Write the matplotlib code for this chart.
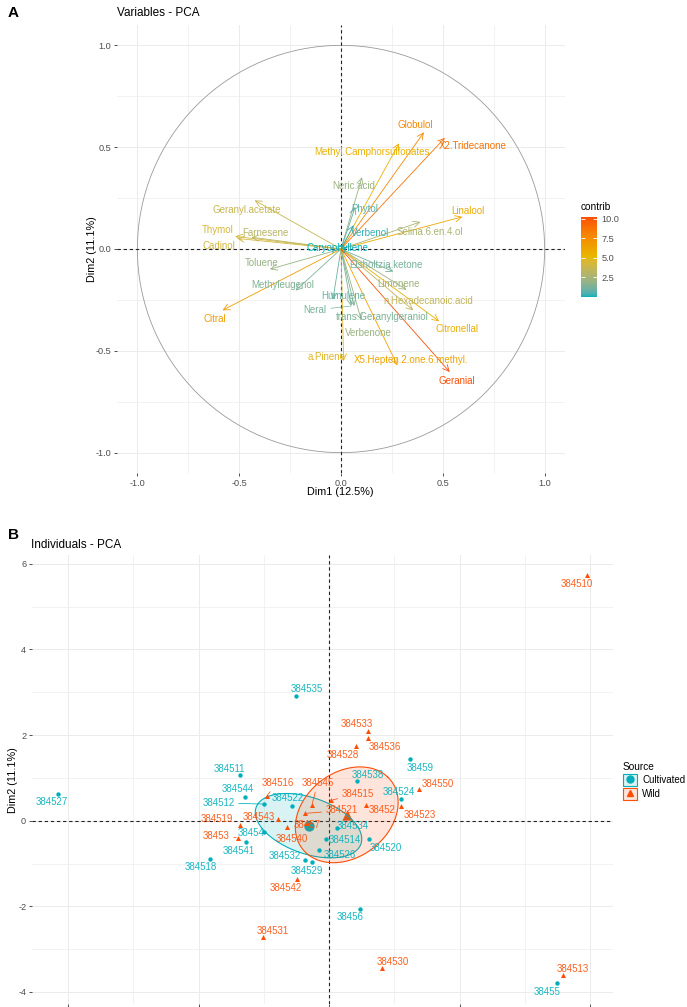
import numpy as np
import matplotlib
matplotlib.use("Agg")
import matplotlib.pyplot as plt
from matplotlib.colors import ListedColormap, Normalize, to_rgba, to_rgb
from matplotlib.cm import ScalarMappable
from matplotlib.lines import Line2D
from matplotlib.patches import Patch, Circle
from matplotlib.legend_handler import HandlerTuple

plt.rcParams['font.family'] = ['Liberation Sans', 'DejaVu Sans']
plt.rcParams['axes.unicode_minus'] = False

# ---------------- data ----------------
dim1_pct = 12.5
dim2_pct = 11.1

var_names = ["Globulol", "X2.Tridecanone", "Methyl.Camphorsulfonates", "Neric.acid",
             "Phytol", "Verbenol", "Selina.6.en.4.ol", "Linalool", "Geranyl.acetate",
             "Thymol", "Farnesene", "Cadinol", "Caryophyllene", "Toluene",
             "Elsholtzia.ketone", "Methyleugenol", "Limonene", "Humulene", "Neral",
             "trans.Geranylgeraniol", "n.Hexadecanoic.acid", "Citronellal", "Citral",
             "Verbenone", "a.Pinene", "X5.Hepten.2.one.6.methyl.", "Geranial"]
var_dim1 = [0.407, 0.510, 0.285, 0.103, 0.070, 0.062, 0.390, 0.596, -0.424,
            -0.520, -0.440, -0.510, 0.030, -0.349, 0.257, -0.223, 0.322, -0.040, 0.050,
            0.065, 0.355, 0.482, -0.582, 0.100, 0.013, 0.277, 0.534]
var_dim2 = [0.573, 0.546, 0.519, 0.353, 0.207, 0.117, 0.133, 0.158, 0.239,
            0.062, 0.058, 0.052, 0.010, -0.099, -0.111, -0.204, -0.200, -0.249, -0.280,
            -0.280, -0.301, -0.355, -0.301, -0.350, -0.550, -0.572, -0.604]

cult_ids = ["384527", "384511", "384544", "384512", "384522", "38454", "384541", "384518",
            "384532", "384529", "384534", "384514", "384526", "384520", "384538", "384524",
            "38459", "384535", "38456", "38455"]
cult_dim1 = [-4.15, -1.36, -1.29, -0.99, -0.56, -0.99, -1.27, -1.82, -0.37, -0.255, 0.12,
             -0.05, -0.15, 0.61, 0.43, 1.11, 1.24, -0.51, 0.47, 3.50]
cult_dim2 = [0.62, 1.07, 0.56, 0.39, 0.34, -0.27, -0.49, -0.89, -0.92, -0.97, -0.16,
             -0.42, -0.68, -0.42, 0.92, 0.51, 1.44, 2.91, -2.06, -3.80]

wild_ids = ["384510", "384516", "384545", "384519", "384543", "38453", "384540", "38457",
            "384521", "384515", "38452", "384523", "384550", "384528", "384536", "384533",
            "384542", "384531", "384530", "384513"]
wild_dim1 = [3.95, -0.955, -0.265, -1.37, -0.78, -1.39, -0.65, -0.34, -0.37, 0.03, 0.57,
             1.11, 1.38, 0.41, 0.60, 0.60, -0.49, -1.01, 0.81, 3.59]
wild_dim2 = [5.74, 0.58, 0.36, -0.11, 0.03, -0.40, -0.155, -0.06, 0.17, 0.48, 0.37, 0.35,
             0.73, 1.75, 1.93, 2.10, -1.35, -2.72, -3.43, -3.60]

groups = ["Cultivated", "Wild"]

# ---------------- layout (label offsets in pixels, segment flags) ----------------
var_lab_off = [(-9, 7), (28, -8), (-27, -9), (-8, -9), (9, -2), (16, -8), (9, -10), (6, 6),
               (-8, -10), (-17, 6), (14, 4), (-18, -8), (-10, -1), (-8, 6), (-7, 7), (-13, 6),
               (-8, 6), (10, 4), (-36, -4), (28, -11), (15, 9), (18, -8), (-8, -9), (7, -13),
               (-17, 4), (14, 5), (7, -9)]
var_lab_seg = {"Neral"}

cult_lab_off = [(-6, -8), (-11, 6), (-7, 8), (-46, 1), (-5, 8), (-13, -1), (-7, -9), (-9, -8),
                (-20, 4), (-6, -9), (16, 2), (19, -1), (21, -5), (17, -9), (11, 6), (-3, 7),
                (10, -9), (11, 7), (-10, -8), (-10, -9)]
cult_lab_seg = {"384512"}
wild_lab_off = [(-10, -9), (11, 13), (6, 22), (-23, 6), (-19, 2), (-22, 2), (5, -12), (0, -2),
                (37, 3), (27, 6), (16, -5), (18, -9), (19, 5), (-13, -9), (17, -9), (-11, 7),
                (-11, -9), (10, 6), (11, 6), (10, 6)]
wild_lab_seg = {"384516", "384545", "38453", "384521", "384515"}

TEAL = "#00AFBB"
YELLOW = "#E7B800"
ORANGE = "#FC4E07"
GRID = "#EBEBEB"
TICKC = "#4D4D4D"


# ---------- Lab-space gradient (as ggplot's gradientn) ----------
def _srgb_to_lab(rgb):
    c = np.asarray(rgb, float)
    lin = np.where(c <= 0.04045, c / 12.92, ((c + 0.055) / 1.055) ** 2.4)
    M = np.array([[0.4124564, 0.3575761, 0.1804375],
                  [0.2126729, 0.7151522, 0.0721750],
                  [0.0193339, 0.1191920, 0.9503041]])
    xyz = M @ lin / np.array([0.95047, 1.0, 1.08883])
    d = 6 / 29
    f = np.where(xyz > d ** 3, np.cbrt(xyz), xyz / (3 * d * d) + 4 / 29)
    return np.array([116 * f[1] - 16, 500 * (f[0] - f[1]), 200 * (f[1] - f[2])])


def _lab_to_srgb(lab):
    L, a, b = lab
    fy = (L + 16) / 116
    fx = fy + a / 500
    fz = fy - b / 200
    d = 6 / 29
    f = np.array([fx, fy, fz])
    xyz = np.where(f > d, f ** 3, 3 * d * d * (f - 4 / 29)) * np.array([0.95047, 1.0, 1.08883])
    Minv = np.array([[3.2404542, -1.5371385, -0.4985314],
                     [-0.9692660, 1.8760108, 0.0415560],
                     [0.0556434, -0.2040259, 1.0572252]])
    lin = np.clip(Minv @ xyz, 0, 1)
    c = np.where(lin <= 0.0031308, 12.92 * lin, 1.055 * lin ** (1 / 2.4) - 0.055)
    return np.clip(c, 0, 1)


def lab_cmap(colors, n=256):
    labs = [_srgb_to_lab(to_rgb(c)) for c in colors]
    pos = np.linspace(0, 1, len(colors))
    out = []
    for t in np.linspace(0, 1, n):
        i = min(np.searchsorted(pos, t, side='right') - 1, len(colors) - 2)
        u = (t - pos[i]) / (pos[i + 1] - pos[i])
        out.append(_lab_to_srgb(labs[i] * (1 - u) + labs[i + 1] * u))
    return ListedColormap(out)


W, H = 687, 1007
fig = plt.figure(figsize=(W / 100, H / 100), dpi=100)


def px_rect(l, t, r, b):
    return [l / W, 1 - b / H, (r - l) / W, (b - t) / H]


def style_axes(ax):
    for s in ax.spines.values():
        s.set_visible(False)
    ax.grid(True, which='major', color=GRID, lw=0.7, zorder=0)
    ax.grid(True, which='minor', color=GRID, lw=0.45, zorder=0)
    ax.set_axisbelow(True)
    ax.tick_params(which='major', length=2.5, width=0.6, color='#333333',
                   labelsize=6.6, labelcolor=TICKC, pad=1.5)
    ax.tick_params(which='minor', length=0)


# ================= Panel A : variables =================
ax1 = fig.add_axes(px_rect(117, 25, 565, 473))
style_axes(ax1)
ax1.set_xlim(-1.1, 1.1)
ax1.set_ylim(-1.1, 1.1)
major = [-1.0, -0.5, 0.0, 0.5, 1.0]
ax1.set_xticks(major)
ax1.set_yticks(major)
ax1.set_xticks([-0.75, -0.25, 0.25, 0.75], minor=True)
ax1.set_yticks([-0.75, -0.25, 0.25, 0.75], minor=True)
ax1.set_xticklabels([f"{v:.1f}" for v in major])
ax1.set_yticklabels([f"{v:.1f}" for v in major])

ax1.add_patch(Circle((0, 0), 1.0, fill=False, ec='#9a9a9a', lw=0.6, zorder=1))
ax1.axhline(0, color='#222222', lw=0.8, ls=(0, (3, 2.5)), zorder=2)
ax1.axvline(0, color='#222222', lw=0.8, ls=(0, (3, 2.5)), zorder=2)

vx = np.array(var_dim1)
vy = np.array(var_dim2)
eig_sum = (dim1_pct + dim2_pct) / 100 * len(var_names)
contrib = 100 * (vx ** 2 + vy ** 2) / eig_sum
cmap = lab_cmap([TEAL, YELLOW, ORANGE])
norm = Normalize(vmin=contrib.min(), vmax=contrib.max())

for name, x, y, c, off in zip(var_names, vx, vy, contrib, var_lab_off):
    col = cmap(norm(c))
    ax1.annotate("", xy=(x, y), xytext=(0, 0),
                 arrowprops=dict(arrowstyle="->,head_length=0.45,head_width=0.22",
                                 color=col, lw=0.6, shrinkA=0, shrinkB=0), zorder=3)
    aprops = None
    if name in var_lab_seg:
        aprops = dict(arrowstyle='-', color=col, lw=0.5, shrinkA=1, shrinkB=0)
    ax1.annotate(name, xy=(x, y), xytext=off, textcoords='offset pixels',
                 ha='center', va='center', fontsize=7, color=col,
                 arrowprops=aprops, zorder=4)

fig.text(117 / W, 1 - 13 / H, "Variables - PCA", fontsize=8.5, va='center', ha='left')
fig.text(8 / W, 1 - 13 / H, "A", fontsize=11, fontweight='bold', va='center', ha='left')
fig.text(340.7 / W, 1 - 492 / H, f"Dim1 ({dim1_pct}%)", fontsize=7.8, ha='center', va='center')
fig.text(92 / W, 1 - 249 / H, f"Dim2 ({dim2_pct}%)", fontsize=7.8, ha='center', va='center',
         rotation=90)

# colour bar
cax = fig.add_axes(px_rect(581, 217, 597, 297))
sm = ScalarMappable(norm=norm, cmap=cmap)
cb = fig.colorbar(sm, cax=cax)
cb.outline.set_visible(False)
cb.set_ticks([2.5, 5.0, 7.5, 10.0])
cb.set_ticklabels(["2.5", "5.0", "7.5", "10.0"])
cax.tick_params(axis='y', direction='in', color='white', length=3, width=0.6,
                left=True, right=True, labelsize=6.6, labelcolor=TICKC, pad=3)
fig.text(581 / W, 1 - 207 / H, "contrib", fontsize=7.3, ha='left', va='center')

# ================= Panel B : individuals =================
cx_ = np.array(cult_dim1)
cy_ = np.array(cult_dim2)
wx_ = np.array(wild_dim1)
wy_ = np.array(wild_dim2)
allx = np.concatenate([cx_, wx_])
ally = np.concatenate([cy_, wy_])
xpad = 0.05 * (allx.max() - allx.min())
ypad = 0.05 * (ally.max() - ally.min())

ax2 = fig.add_axes(px_rect(31.8, 554.6, 613.2, 1003.8))
style_axes(ax2)
ax2.set_xlim(allx.min() - xpad, allx.max() + xpad)
ax2.set_ylim(ally.min() - ypad, ally.max() + ypad)
ax2.set_xticks([-4, -2, 0, 2, 4])
ax2.set_xticks([-3, -1, 1, 3], minor=True)
ax2.set_yticks([-4, -2, 0, 2, 4, 6])
ax2.set_yticks([-3, -1, 1, 3, 5], minor=True)
ax2.tick_params(axis='x', labelbottom=False)
ax2.axhline(0, color='#222222', lw=0.8, ls=(0, (3, 2.5)), zorder=2)
ax2.axvline(0, color='#222222', lw=0.8, ls=(0, (3, 2.5)), zorder=2)


def conf_ellipse(x, y, level=0.95, n=200):
    x = np.asarray(x)
    y = np.asarray(y)
    cov = np.cov(x, y) / len(x)
    sx, sy = np.sqrt(np.diag(cov))
    r = cov[0, 1] / (sx * sy)
    d = np.arccos(r)
    t = np.sqrt(-2 * np.log(1 - level))
    a = np.linspace(0, 2 * np.pi, n)
    return x.mean() + t * sx * np.cos(a + d / 2), y.mean() + t * sy * np.cos(a - d / 2)


group_data = [
    (cx_, cy_, cult_ids, cult_lab_off, cult_lab_seg, TEAL, 'o', 10),
    (wx_, wy_, wild_ids, wild_lab_off, wild_lab_seg, ORANGE, '^', 13),
]
for gx, gy, ids, offs, segs, col, mk, sz in group_data:
    ax2.scatter(gx, gy, s=sz, marker=mk, color=col, lw=0, zorder=4)
    ax2.scatter([gx.mean()], [gy.mean()], s=55, marker=mk, color=col, lw=0, zorder=2.5)
    for lab, x, y, off in zip(ids, gx, gy, offs):
        aprops = None
        if lab in segs:
            aprops = dict(arrowstyle='-', color=col, lw=0.55, shrinkA=1, shrinkB=1.5)
        ax2.annotate(lab, xy=(x, y), xytext=off, textcoords='offset pixels',
                     ha='center', va='center', fontsize=7, color=col, alpha=0.9,
                     arrowprops=aprops, zorder=5)
    ex, ey = conf_ellipse(gx, gy)
    ax2.fill(ex, ey, color=col, alpha=0.15, lw=0, zorder=3)
    ax2.plot(ex, ey, color=col, lw=0.8, zorder=3)

fig.text(31 / W, 1 - 545 / H, "Individuals - PCA", fontsize=8.5, va='center', ha='left')
fig.text(8 / W, 1 - 535 / H, "B", fontsize=11, fontweight='bold', va='center', ha='left')
fig.text(13 / W, 1 - 780 / H, f"Dim2 ({dim2_pct}%)", fontsize=7.8, ha='center', va='center',
         rotation=90)

handles = []
for col, mk in [(TEAL, 'o'), (ORANGE, '^')]:
    handles.append((Patch(facecolor=to_rgba(col, 0.15), edgecolor=col, lw=0.8),
                    Line2D([], [], ls='', marker=mk, color=col, ms=5)))
leg = ax2.legend(handles, groups, title="Source", loc='center left',
                 bbox_to_anchor=(616 / W, 1 - 781 / H), bbox_transform=fig.transFigure,
                 frameon=False, handler_map={tuple: HandlerTuple(ndivide=1)},
                 fontsize=7, title_fontsize=7.3, handlelength=1.5, handleheight=1.5,
                 handletextpad=0.5, labelspacing=0.2, borderpad=0.2, alignment='left')

fig.savefig("out.png", dpi=100)
